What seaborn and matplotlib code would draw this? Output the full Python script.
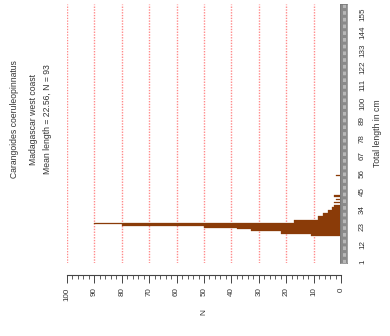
import numpy as np
import pandas as pd
import matplotlib
matplotlib.use("Agg")
import matplotlib.pyplot as plt
import seaborn as sns
from matplotlib.ticker import MultipleLocator

# ---- data ----
length_cm = [18, 19, 20, 21, 22, 23, 24, 25, 26, 27, 28, 29, 30, 31, 32, 33, 34, 35, 36, 38, 40, 42, 55]
count_n   = [11, 22, 22, 33, 38, 50, 80, 90, 17, 17, 8.4, 8.4, 6.5, 6.5, 4.7, 4.7, 3.4, 3.4, 2.5, 2.5, 2, 2.5, 2]
length_ticks = [1, 12, 23, 34, 45, 56, 67, 78, 89, 100, 111, 122, 133, 144, 155]
n_ticks = [100, 90, 80, 70, 60, 50, 40, 30, 20, 10, 0]
title_lines = ["Carangoides coeruleopinnatus", "Madagascar west coast", "Mean length = 22.56, N = 93"]

df = pd.DataFrame({"length": length_cm, "n": count_n})

sns.set_style("white")
plt.rcParams["font.family"] = ["Liberation Sans", "DejaVu Sans"]

W, H = 390, 336
fig = plt.figure(figsize=(W / 100, H / 100), dpi=100)
ax = fig.add_axes([67 / W, (H - 263) / H, (341 - 67) / W, 259 / H])

# red dotted grid lines
for v in n_ticks[:-1]:
    ax.axvline(v, color="#ff8a8a", lw=1.0, ls=(0, (1, 1.0)), zorder=0)

sns.histplot(data=df, y="length", weights="n", discrete=True,
             color="#8a3b08", edgecolor="#8a3b08", linewidth=0.2, alpha=1.0, ax=ax, zorder=2)

ax.set_xlim(100, 0)
ax.set_ylim(0.5, 161.5)

# bottom N axis, offset below plot
for s in ["top", "left", "right"]:
    ax.spines[s].set_visible(False)
ax.spines["bottom"].set_position(("outward", 8.6))
ax.spines["bottom"].set_color("#444444")
ax.spines["bottom"].set_linewidth(0.8)
ax.set_xticks(n_ticks)
ax.set_xticklabels([str(v) for v in n_ticks])
ax.xaxis.set_minor_locator(MultipleLocator(2))
ax.tick_params(axis="x", which="both", bottom=True)
ax.tick_params(axis="x", which="major", direction="out", length=6, width=0.7,
               color="#444444", labelsize=5.8, labelrotation=90, pad=3, labelcolor="#333333")
ax.tick_params(axis="x", which="minor", direction="out", length=3, width=0.6, color="#444444")
ax.set_xlabel("N", rotation=90, fontsize=6, color="#333333", labelpad=6)

# right length axis
ax.yaxis.tick_right()
ax.yaxis.set_label_position("right")
ax.set_yticks(length_ticks)
ax.set_yticklabels([str(v) for v in length_ticks])
ax.tick_params(axis="y", length=0, labelsize=5.8, labelrotation=90, pad=13, labelcolor="#333333")
for lab in ax.get_yticklabels():
    lab.set_verticalalignment("center")
ax.set_ylabel("Total length in cm", rotation=90, fontsize=6.2, color="#333333", labelpad=5)
ax.grid(False)

# gray band along the length axis
ax2 = fig.add_axes([340 / W, (H - 263) / H, 7 / W, 259 / H])
ax2.set_facecolor("#8a8a8a")
ax2.axvline(0.5, color="#b8b8b8", lw=2.2, ls=(0, (1.2, 1.0)))
ax2.set_xlim(0, 1)
ax2.set_xticks([])
ax2.set_yticks([])
for s in ax2.spines.values():
    s.set_color("#777777")
    s.set_linewidth(0.5)

# title lines, rotated
for xpix, txt in zip([15, 33, 48], title_lines):
    fig.text(xpix / W, 1 - 119 / H, txt, rotation=90, ha="center", va="center",
             fontsize=6.2, color="#333333")

fig.savefig("out.png", dpi=100)
